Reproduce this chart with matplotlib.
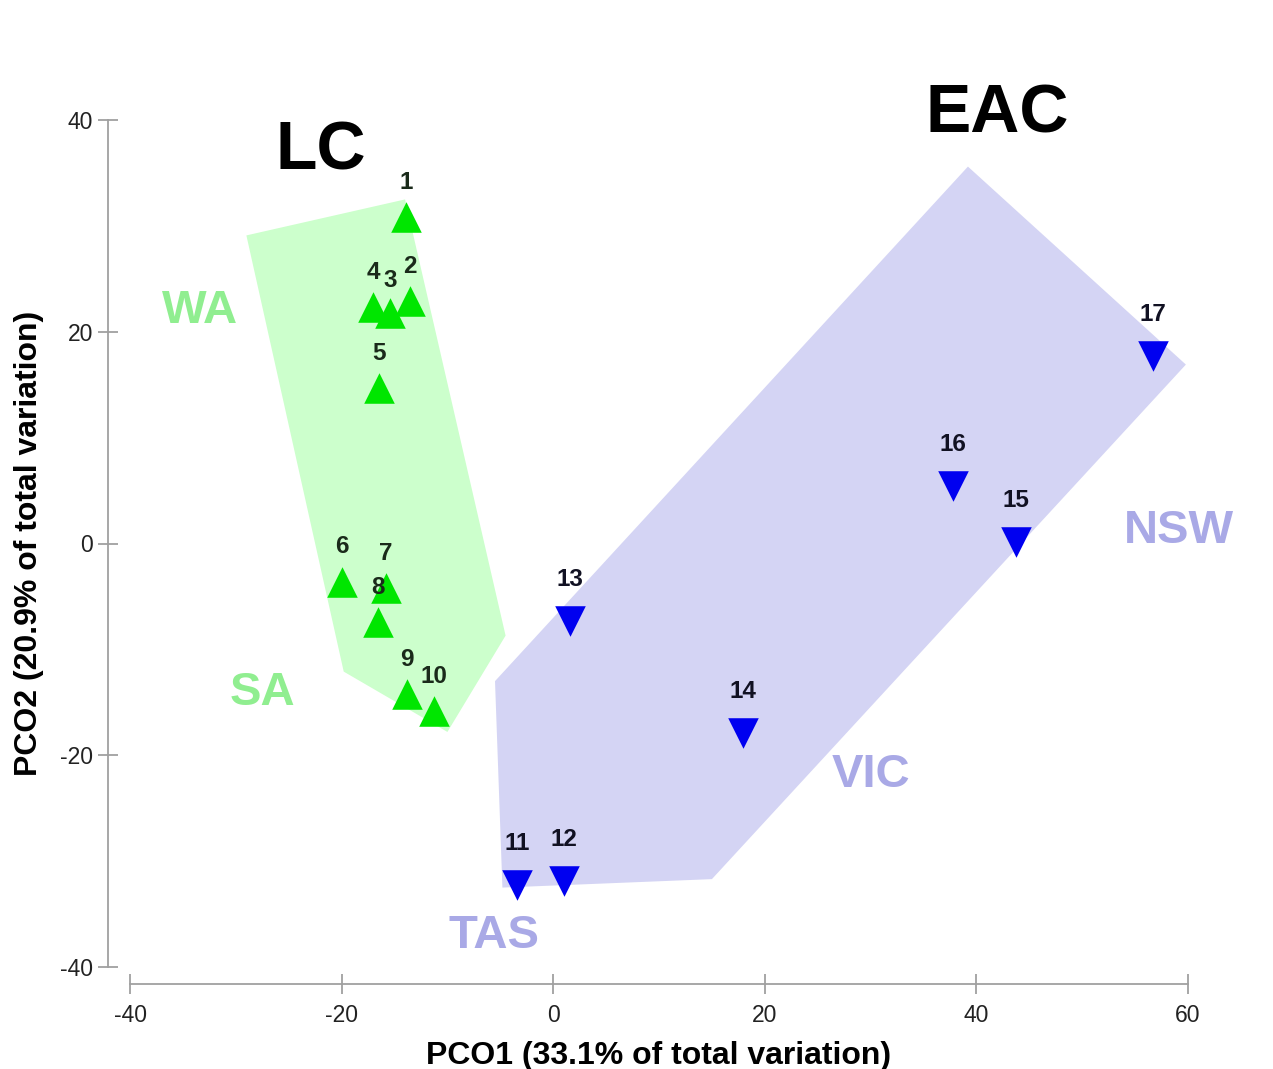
import numpy as np
import matplotlib.pyplot as plt

plt.rcParams['font.family'] = ['Liberation Sans', 'DejaVu Sans']
plt.rcParams['axes.unicode_minus'] = False

# Sites (PCO scores)
lc_sites = ["1", "2", "3", "4", "5", "6", "7", "8", "9", "10"]
lc_pco1 = [-13.9, -13.5, -15.4, -17.0, -16.5, -20.0, -15.8, -16.6, -13.8, -11.3]
lc_pco2 = [30.8, 22.9, 21.8, 22.3, 14.7, -3.6, -4.2, -7.4, -14.2, -15.8]

eac_sites = ["11", "12", "13", "14", "15", "16", "17"]
eac_pco1 = [-3.4, 1.0, 1.6, 17.9, 43.7, 37.8, 56.7]
eac_pco2 = [-32.3, -31.9, -7.3, -17.9, 0.1, 5.4, 17.7]

# hand-drawn group outlines
lc_hull_x = [-29.0, -14.0, -4.5, -10.0, -19.8]
lc_hull_y = [29.1, 32.5, -8.7, -17.8, -12.1]
eac_hull_x = [39.2, 59.8, 15.0, -4.8, -5.5]
eac_hull_y = [35.6, 16.9, -31.7, -32.5, -13.0]

# region labels
state_names = ["WA", "SA", "TAS", "VIC", "NSW"]
state_x = [-33.4, -27.5, -5.6, 30.0, 59.1]
state_y = [22.0, -14.1, -37.1, -21.9, 1.2]
state_cols = ["#90ee90", "#90ee90", "#a9a9e6", "#a9a9e6", "#a9a9e6"]

current_names = ["LC", "EAC"]
current_x = [-22.0, 42.0]
current_y = [37.0, 40.5]

fig = plt.figure(figsize=(12.73, 10.69), dpi=100)
ax = fig.add_axes([130 / 1273, 1 - 967 / 1069, (1188 - 130) / 1273, (967 - 120) / 1069])

ax.fill(lc_hull_x, lc_hull_y, color="#ccffcc", zorder=1, lw=0)
ax.fill(eac_hull_x, eac_hull_y, color="#d4d4f4", zorder=1, lw=0)

ax.scatter(lc_pco1, lc_pco2, marker="^", s=22**2, color="#00e600", zorder=3, lw=0)
ax.scatter(eac_pco1, eac_pco2, marker="v", s=22**2, color="#0000f0", zorder=3, lw=0)

for lab, x, y in zip(lc_sites, lc_pco1, lc_pco2):
    dy = 25
    if lab == "3":
        dy = 23
    ax.annotate(lab, (x, y), xytext=(0, dy), textcoords="offset points",
                ha="center", va="center", fontsize=17.5, fontweight="bold",
                color="#1a2a1a", zorder=4)
for lab, x, y in zip(eac_sites, eac_pco1, eac_pco2):
    ax.annotate(lab, (x, y), xytext=(0, 30), textcoords="offset points",
                ha="center", va="center", fontsize=17.5, fontweight="bold",
                color="#111122", zorder=4)

for name, x, y, c in zip(state_names, state_x, state_y, state_cols):
    ax.text(x, y, name, ha="center", va="center", fontsize=34,
            fontweight="bold", color=c, zorder=2)
for name, x, y in zip(current_names, current_x, current_y):
    ax.text(x, y, name, ha="center", va="center", fontsize=49,
            fontweight="bold", color="black", zorder=2, clip_on=False)

ax.set_xlim(-40, 60)
ax.set_ylim(-40, 40)
ax.set_xticks(np.arange(-40, 61, 20))
ax.set_yticks(np.arange(-40, 41, 20))

for s in ["top", "right"]:
    ax.spines[s].set_visible(False)
ax.spines["left"].set_position(("outward", 16))
ax.spines["bottom"].set_position(("outward", 12))
for s in ["left", "bottom"]:
    ax.spines[s].set_color("#a0a0a0")
    ax.spines[s].set_linewidth(1.3)
ax.tick_params(direction="inout", length=15, width=1.3, color="#a0a0a0",
               labelsize=16.5, labelcolor="#222222", pad=3)
ax.tick_params(axis="x", pad=7)

ax.set_xlabel("PCO1 (33.1% of total variation)", fontsize=23, fontweight="bold", labelpad=10)
ax.set_ylabel("PCO2 (20.9% of total variation)", fontsize=23, fontweight="bold", labelpad=12)

fig.savefig("out.png", dpi=100)
